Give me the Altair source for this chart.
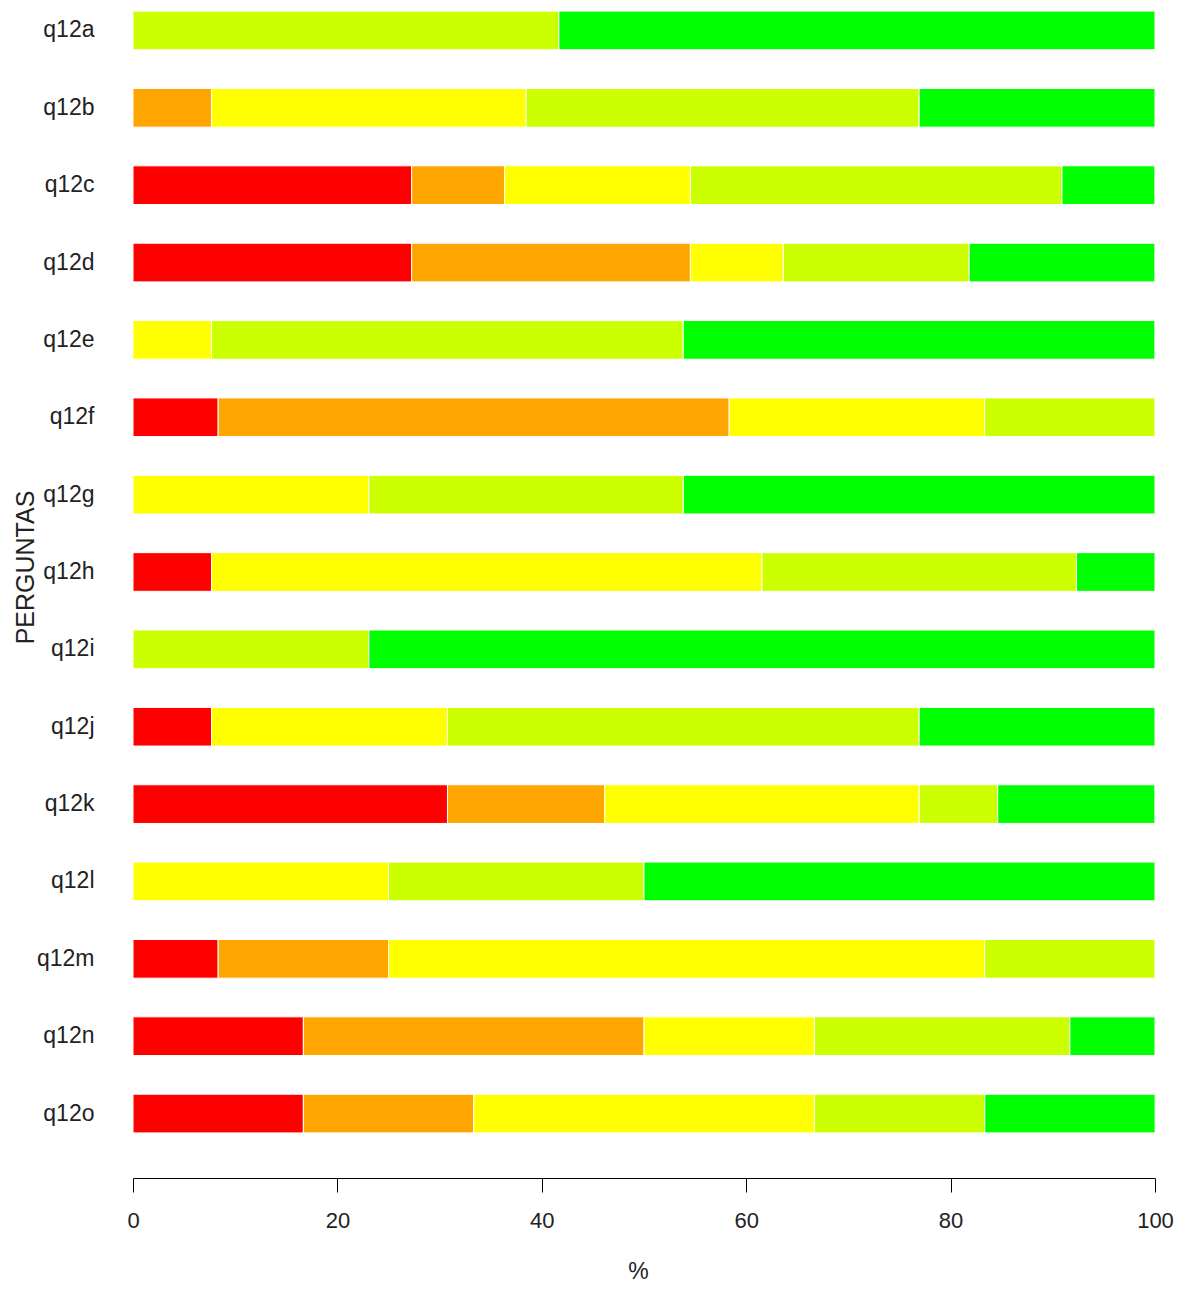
import altair as alt
import pandas as pd

questions = ["q12a", "q12b", "q12c", "q12d", "q12e", "q12f", "q12g", "q12h",
             "q12i", "q12j", "q12k", "q12l", "q12m", "q12n", "q12o"]
levels = ["1", "2", "3", "4", "5"]
colors = ["#FF0000", "#FFA500", "#FFFF00", "#CCFF00", "#00FF00"]

level1 = [0, 0, 27.27, 27.27, 0, 8.33, 0, 7.69, 0, 7.69, 30.77, 0, 8.33, 16.67, 16.67]
level2 = [0, 7.69, 9.09, 27.27, 0, 50.0, 0, 0, 0, 0, 15.38, 0, 16.67, 33.33, 16.67]
level3 = [0, 30.77, 18.18, 9.09, 7.69, 25.0, 23.08, 53.85, 0, 23.08, 30.77, 25.0, 58.33, 16.67, 33.33]
level4 = [41.67, 38.46, 36.36, 18.18, 46.15, 16.67, 30.77, 30.77, 23.08, 46.15, 7.69, 25.0, 16.67, 25.0, 16.67]
level5 = [58.33, 23.08, 9.09, 18.18, 46.15, 0, 46.15, 7.69, 76.92, 23.08, 15.38, 50.0, 0, 8.33, 16.67]

series = [level1, level2, level3, level4, level5]
rows = []
for li, (lev, vals) in enumerate(zip(levels, series)):
    for q, v in zip(questions, vals):
        if v > 0:
            rows.append({"q": q, "level": lev, "ord": li, "pct": v})
df = pd.DataFrame(rows)

FONT = "Liberation Sans"

chart = alt.Chart(df).mark_bar(stroke="white", strokeWidth=1).encode(
    x=alt.X("pct:Q", stack="zero",
            scale=alt.Scale(domain=[0, 100], nice=False, zero=True),
            axis=alt.Axis(title="%", values=[0, 20, 40, 60, 80, 100], grid=False,
                          offset=42, tickSize=14, tickColor="black", domainColor="black",
                          labelFontSize=22, labelFont=FONT, labelColor="#222222",
                          labelPadding=18, labelFlush=False,
                          titleFontSize=23, titleFont=FONT, titleColor="#222222",
                          titleFontWeight="normal", titlePadding=29, titleX=505)),
    y=alt.Y("q:N", sort=questions,
            scale=alt.Scale(paddingInner=0.5, paddingOuter=0.04),
            axis=alt.Axis(title="PERGUNTAS", domain=False, ticks=False,
                          labelFontSize=23, labelFont=FONT, labelColor="#222222",
                          labelPadding=39,
                          titleFontSize=25, titleFont=FONT, titleColor="#222222",
                          titleFontWeight="normal", titleAngle=270,
                          titleX=-108, titleY=559, titleBaseline="middle", titleAlign="center")),
    color=alt.Color("level:N", scale=alt.Scale(domain=levels, range=colors), legend=None),
    order=alt.Order("ord:Q", sort="ascending"),
).properties(
    width=1022, height=1128,
    background="white",
    autosize=alt.AutoSizeParams(type="none"),
    padding={"left": 125, "top": 0, "right": 19, "bottom": 147},
).configure_view(strokeWidth=0, stroke="transparent")

chart.save("out.html", embed_options={"renderer": "svg", "actions": False})
